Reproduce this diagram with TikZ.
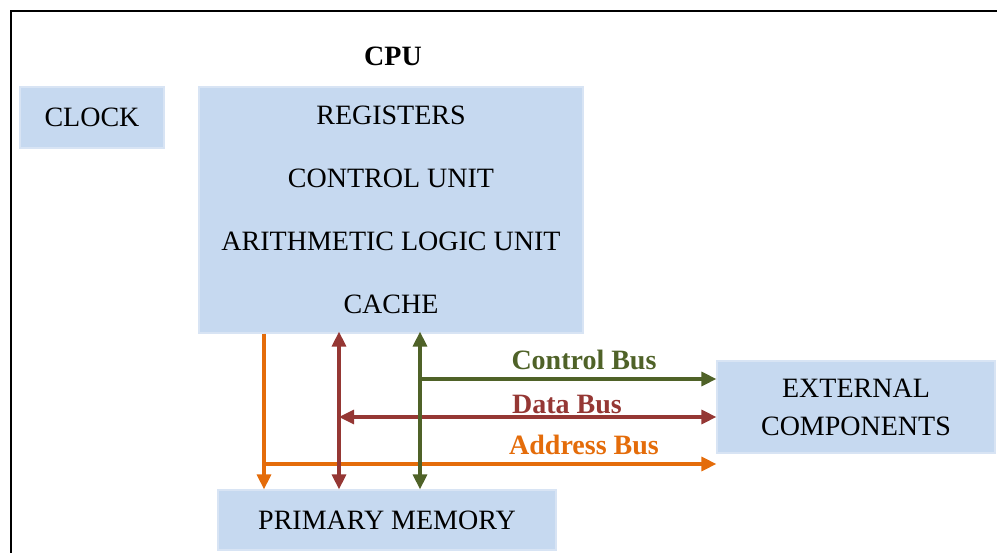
\documentclass[tikz,border=0pt]{standalone}
\usepackage{fontspec}
\setmainfont{Liberation Serif}
\usetikzlibrary{arrows.meta}
\definecolor{boxfill}{RGB}{198,217,240}
\definecolor{boxedge}{RGB}{216,228,244}
\definecolor{ctrlbus}{RGB}{79,98,40}
\definecolor{databus}{RGB}{149,55,52}
\definecolor{addrbus}{RGB}{228,108,10}
\tikzset{
  txt/.style={font=\fontsize{28}{32}\selectfont, inner sep=0pt},
  unit/.style={fill=boxfill, draw=boxedge, line width=1.2pt, inner sep=0pt,
    font=\fontsize{28}{32}\selectfont, text=black, align=center},
  bus/.style={line width=3.2pt, -{Triangle[length=15pt,width=14pt]}},
  dbus/.style={line width=3.2pt, {Triangle[length=15pt,width=14pt]}-{Triangle[length=15pt,width=14pt]}},
  buslabel/.style={font=\bfseries\fontsize{28}{32}\selectfont, inner sep=0pt},
}
\begin{document}
\begin{tikzpicture}[x=1pt,y=-1pt]
  \useasboundingbox (0,0) rectangle (997,553);
  % frame
  \draw[line width=2.2pt] (11,553) -- (11,11) -- (997,11);

  % blocks
  \node[unit, minimum width=144pt, minimum height=61pt] (clock) at (92,117.5) {CLOCK};
  \node[unit, minimum width=384pt, minimum height=246pt] (cpu) at (391,210) {};
  \node[buslabel] (cpulbl) at (393,56) {CPU};
  \node[txt] (reg) at (391,115) {REGISTERS};
  \node[txt] (cu) at (391,178) {CONTROL UNIT};
  \node[txt] (alu) at (391,241) {ARITHMETIC LOGIC UNIT};
  \node[txt] (cache) at (391,304) {CACHE};
  \node[unit, minimum width=278pt, minimum height=92pt, font=\fontsize{28}{38}\selectfont] (ext) at (856,407) {EXTERNAL\\COMPONENTS};
  \node[unit, minimum width=338pt, minimum height=60pt] (mem) at (387,520) {PRIMARY MEMORY};

  % bus lines
  \coordinate (ax) at (264,0);
  \coordinate (dx) at (339,0);
  \coordinate (cx) at (420,0);
  \coordinate (ay) at (0,464);
  \coordinate (dy) at (0,417);
  \coordinate (cy) at (0,379);

  \draw[bus, draw=addrbus, fill=addrbus] (ax |- cpu.south) -- (ax |- mem.north);
  \draw[bus, draw=addrbus, fill=addrbus] (ax |- ay) -- (ext.west |- ay);

  \draw[dbus, draw=databus, fill=databus] ([yshift=2pt]dx |- cpu.south) -- (dx |- mem.north);
  \draw[dbus, draw=databus, fill=databus] (dx |- dy) -- (ext.west |- dy);

  \draw[dbus, draw=ctrlbus, fill=ctrlbus] ([yshift=2pt]cx |- cpu.south) -- (cx |- mem.north);
  \draw[bus, draw=ctrlbus, fill=ctrlbus] (cx |- cy) -- (ext.west |- cy);

  % bus labels
  \node[buslabel, text=ctrlbus] (clbl) at (584,360) {Control Bus};
  \node[buslabel, text=databus] (dlbl) at (567,405) {Data Bus};
  \node[buslabel, text=addrbus] (albl) at (584,445) {Address Bus};
\end{tikzpicture}
\end{document}
